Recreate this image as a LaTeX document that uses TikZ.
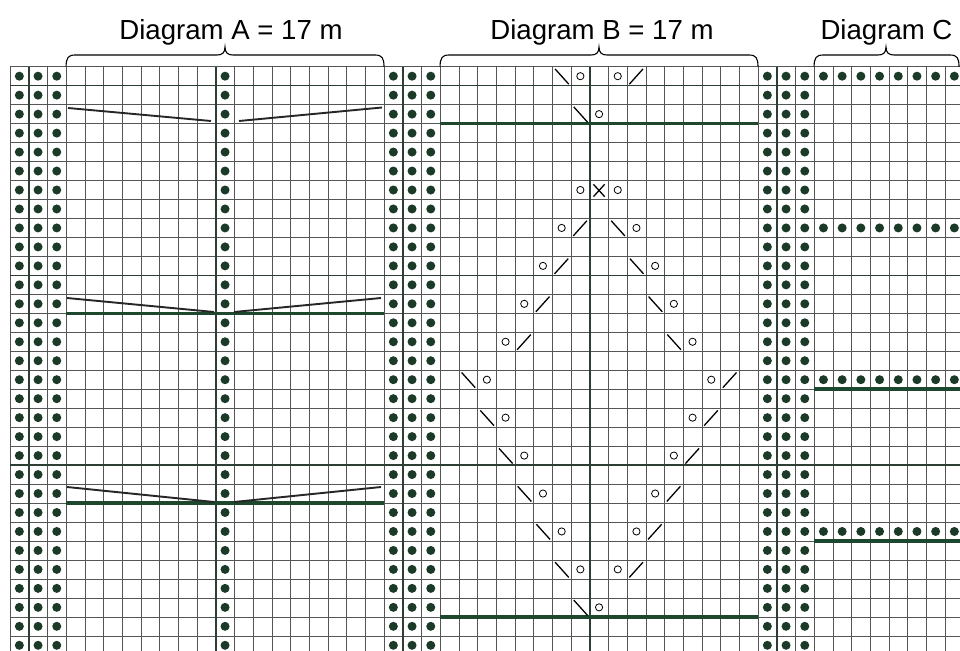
\documentclass[tikz,border=0pt]{standalone}
\usepackage{fontspec}
\setmainfont{Liberation Sans}
\definecolor{gridc}{RGB}{85,85,85}
\definecolor{thickc}{RGB}{45,62,52}
\definecolor{dotc}{RGB}{28,58,40}
\definecolor{lnc}{RGB}{30,72,46}
\newcommand\dgbrace[3]{\draw[bracel] (#1,66.7) .. controls (#1,58) and ({#1+2},55) .. ({#1+9},55) -- ({#2-8},55) .. controls ({#2-3},55) and (#2,53) .. (#2,47) .. controls (#2,53) and ({#2+3},55) .. ({#2+8},55) -- ({#3-9},55) .. controls ({#3-2},55) and (#3,58) .. (#3,66.7);}
\tikzset{
  gridline/.style={gridc, line width=0.6pt},
  thickline/.style={thickc, line width=1.6pt},
  patline/.style={lnc, line width=3.4pt},
  vline/.style={black!85, line width=1.9pt},
  sym/.style={black, line width=1.3pt},
  yo/.style={black, line width=0.8pt},
  bracel/.style={black, line width=1.1pt},
  title/.style={font=\fontsize{27.6}{30}\selectfont, anchor=base, inner sep=0pt}
}
\begin{document}
\begin{tikzpicture}[x=1pt,y=-1pt]
\useasboundingbox (0,0) rectangle (960,650);
\fill[white] (0,0) rectangle (960,650);
\begin{scope}
\clip (0,0) rectangle (960,650);
% grid
\foreach \c in {0,...,50} \draw[gridline] ({10+18.7*\c},66.7) -- ({10+18.7*\c},660);
\foreach \r in {0,...,31} \draw[gridline] (10,{66.7+18.97*\r}) -- (970,{66.7+18.97*\r});
\foreach \c in {1,11,21,31,41} \draw[thickline] ({10+18.7*\c},66.7) -- ({10+18.7*\c},660);
\foreach \r in {1,11,21} \draw[thickline] (10,{66.7+18.97*\r}) -- (970,{66.7+18.97*\r});
% dot columns
\foreach \c in {0,1,2,11,20,21,22,40,41,42}
  \foreach \r in {0,...,30}
    \fill[dotc] ({10+18.7*(\c+0.5)},{66.7+18.97*(\r+0.5)}) circle (4.5);
% diagram C dot rows
\foreach \r in {0,8,16,24}
  \foreach \c in {43,...,50}
    \fill[dotc] ({10+18.7*(\c+0.5)},{66.7+18.97*(\r+0.5)}) circle (4.5);
% pattern lines
\draw[patline] (440.1,{66.7+18.97*3}) -- (758,{66.7+18.97*3});
\draw[patline] (440.1,{66.7+18.97*29}) -- (758,{66.7+18.97*29});
\draw[patline] (66.1,{66.7+18.97*13}) -- (384,{66.7+18.97*13});
\draw[patline] (66.1,{66.7+18.97*23}) -- (384,{66.7+18.97*23});
\draw[patline] (814.1,{66.7+18.97*17}) -- (965,{66.7+18.97*17});
\draw[patline] (814.1,{66.7+18.97*25}) -- (965,{66.7+18.97*25});
% V lines in diagram A
\draw[vline] (68,108) -- (211,121);
\draw[vline] (239,121) -- (382,107.5);
\draw[vline] (67,298) -- (214,312);
\draw[vline] (234,312) -- (381,298);
\draw[vline] (67,487) -- (214,502);
\draw[vline] (234,502) -- (381,487);
% diagram B symbols
\foreach \j/\r in {6/0,7/2,9/8,10/10,11/12,12/14,1/16,2/18,3/20,4/22,5/24,6/26,7/28}
  \draw[sym] ({440.1+18.7*(\j+0.15)},{66.7+18.97*(\r+0.12)}) -- ({440.1+18.7*(\j+0.88)},{66.7+18.97*(\r+0.92)});
\foreach \j/\r in {10/0,7/8,6/10,5/12,4/14,15/16,14/18,13/20,12/22,11/24,10/26}
  \draw[sym] ({440.1+18.7*(\j+0.12)},{66.7+18.97*(\r+0.92)}) -- ({440.1+18.7*(\j+0.85)},{66.7+18.97*(\r+0.12)});
\foreach \j/\r in {7/0,9/0,8/2,7/6,9/6,6/8,10/8,5/10,11/10,4/12,12/12,3/14,13/14,2/16,14/16,3/18,13/18,4/20,12/20,5/22,11/22,6/24,10/24,7/26,9/26,8/28}
  \draw[yo] ({440.1+18.7*(\j+0.5)},{66.7+18.97*(\r+0.5)}) circle (3.6);
\draw[sym] ({440.1+18.7*8.2},{66.7+18.97*6.2}) -- ({440.1+18.7*8.8},{66.7+18.97*6.85});
\draw[sym] ({440.1+18.7*8.2},{66.7+18.97*6.85}) -- ({440.1+18.7*8.8},{66.7+18.97*6.2});
% braces
\dgbrace{66.1}{225}{384}
\dgbrace{440.1}{599}{758}
\dgbrace{814.1}{886}{959}
\end{scope}
% titles
\node[title] (tA) at (231,40) {Diagram A = 17 m};
\node[title] (tB) at (602,40) {Diagram B = 17 m};
\node[title] (tC) at (886.5,40) {Diagram C};
\end{tikzpicture}
\end{document}
